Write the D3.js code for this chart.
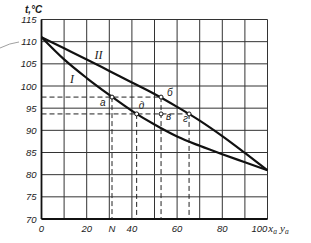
<!DOCTYPE html>
<html lang="ru">
<head>
	<meta charset="UTF-8">
	<title>t-x-y</title>
	<script src="https://d3js.org/d3.v7.min.js"></script>
	<style>
		body { margin: 0; background: #fff; }
		text { font-style: italic; fill: #1a1a1a; }
	</style>
</head>
<body>
	<div class="box"></div>

	<script type="text/javascript">
		// composition, % and temperatures, deg C
		let xs = [0, 10, 20, 30, 40, 50, 60, 70, 80, 90, 100]
		let curveI = [111, 106, 101.8, 98, 94.4, 91.3, 88.6, 86.5, 84.6, 82.8, 81]
		let curveII = [111, 108.5, 106, 103.4, 100.8, 98.2, 95.3, 92.2, 88.7, 84.9, 81]
		let yTicks = [70, 75, 80, 85, 90, 95, 100, 105, 110, 115]
		let xTicks = [0, 20, 40, 60, 80]
		// construction points: name, x, t
		let pointNames = ['а', 'д', 'б', 'в', 'г']
		let pointX = [31.2, 42.1, 52.9, 52.9, 65.3]
		let pointT = [97.5, 93.7, 97.5, 93.7, 93.7]
		let xN = 31.2

		let width = 311
		let height = 243
		let m = { top: 19.5, right: 43.5, bottom: 24, left: 41.5 }
		let sans = '"Liberation Sans", Arial, sans-serif'
		let serif = '"Liberation Serif", "DejaVu Serif", serif'

		let x = d3.scaleLinear().domain([0, 100]).range([m.left, width - m.right])
		let y = d3.scaleLinear().domain([70, 115]).range([height - m.bottom, m.top])

		let svg = d3.select('.box').append('svg').attr('width', width).attr('height', height)
			.style('font-family', sans)

		// grid
		svg.append('g').selectAll('line').data(d3.range(0, 101, 10)).enter().append('line')
			.attr('x1', d => x(d)).attr('x2', d => x(d))
			.attr('y1', y(70)).attr('y2', y(115))
			.attr('stroke', '#333').attr('stroke-width', 1)
		svg.append('g').selectAll('line').data(yTicks).enter().append('line')
			.attr('x1', x(0)).attr('x2', x(100))
			.attr('y1', d => y(d)).attr('y2', d => y(d))
			.attr('stroke', '#333').attr('stroke-width', 1)

		// axes frame lines
		svg.append('line').attr('x1', x(0)).attr('x2', x(0)).attr('y1', y(70)).attr('y2', y(115))
			.attr('stroke', '#111').attr('stroke-width', 1.8)
		svg.append('line').attr('x1', x(0)).attr('x2', x(100)).attr('y1', y(70)).attr('y2', y(70))
			.attr('stroke', '#111').attr('stroke-width', 1.8)

		// dashed construction lines
		let dash = '5,3'
		let dashed = [
			[0, pointT[0], pointX[2], pointT[2]],
			[0, pointT[1], pointX[4], pointT[4]],
			[xN, pointT[0], xN, 70],
			[pointX[1], pointT[1], pointX[1], 70],
			[pointX[2], pointT[2], pointX[2], 70],
			[pointX[4], pointT[4], pointX[4], 70]
		]
		svg.append('g').selectAll('line').data(dashed).enter().append('line')
			.attr('x1', d => x(d[0])).attr('y1', d => y(d[1]))
			.attr('x2', d => x(d[2])).attr('y2', d => y(d[3]))
			.attr('stroke', '#222').attr('stroke-width', 1)
			.attr('stroke-dasharray', dash)

		// curves
		let line = d3.line().x(d => x(d[0])).y(d => y(d[1])).curve(d3.curveMonotoneX)
		svg.append('path').datum(xs.map((v, i) => [v, curveI[i]]))
			.attr('d', line).attr('fill', 'none').attr('stroke', '#111').attr('stroke-width', 2.2)
		svg.append('path').datum(xs.map((v, i) => [v, curveII[i]]))
			.attr('d', line).attr('fill', 'none').attr('stroke', '#111').attr('stroke-width', 2.2)

		// points
		svg.append('g').selectAll('circle').data(pointX).enter().append('circle')
			.attr('cx', d => x(d)).attr('cy', (d, i) => y(pointT[i]))
			.attr('r', 2).attr('fill', '#fff').attr('stroke', '#111').attr('stroke-width', 1)

		// point labels
		let labelDx = [-12, 2, 6, 5, -6]
		let labelDy = [9, -5, -1, 6, 8]
		svg.append('g').selectAll('text').data(pointNames).enter().append('text')
			.attr('x', (d, i) => x(pointX[i]) + labelDx[i])
			.attr('y', (d, i) => y(pointT[i]) + labelDy[i])
			.attr('font-size', '10px')
			.text(d => d)

		// curve labels
		svg.append('text').attr('x', x(12.6)).attr('y', y(100.6)).attr('font-size', '12px')
			.style('font-family', serif).text('I')
		svg.append('text').attr('x', x(23.5)).attr('y', y(106.2)).attr('font-size', '12px')
			.style('font-family', serif).text('II')

		// y tick labels
		svg.append('g').selectAll('text').data(yTicks).enter().append('text')
			.attr('x', x(0) - 5).attr('y', d => y(d) + 3.5)
			.attr('text-anchor', 'end').attr('font-size', '9.5px')
			.text(d => d)

		// x tick labels
		svg.append('g').selectAll('text').data(xTicks).enter().append('text')
			.attr('x', d => x(d)).attr('y', y(70) + 13)
			.attr('text-anchor', 'middle').attr('font-size', '9.5px')
			.text(d => d)
		svg.append('text').attr('x', x(xN)).attr('y', y(70) + 13)
			.attr('text-anchor', 'middle').attr('font-size', '9.5px').text('N')
		let last = svg.append('text').attr('x', x(100) - 16).attr('y', y(70) + 13).attr('font-size', '9.5px')
		last.append('tspan').text('100')
		last.append('tspan').attr('dx', 1).attr('font-size', '11px').style('font-family', serif).text('x')
		last.append('tspan').attr('dy', 2).attr('font-size', '7.5px').style('font-family', serif).text('a')
		last.append('tspan').attr('dy', -2).attr('dx', 3).attr('font-size', '11px').style('font-family', serif).text('y')
		last.append('tspan').attr('dy', 2).attr('font-size', '7.5px').style('font-family', serif).text('a')

		// axis title
		svg.append('text').attr('x', 25).attr('y', 13).attr('font-size', '10px')
			.attr('font-weight', 'bold').text('t,°C')

		// stray scan mark near 110
		svg.append('path').attr('d', 'M0,48 Q10,43 19,42')
			.attr('fill', 'none').attr('stroke', '#888').attr('stroke-width', 0.8)
	</script>
</body>
</html>
